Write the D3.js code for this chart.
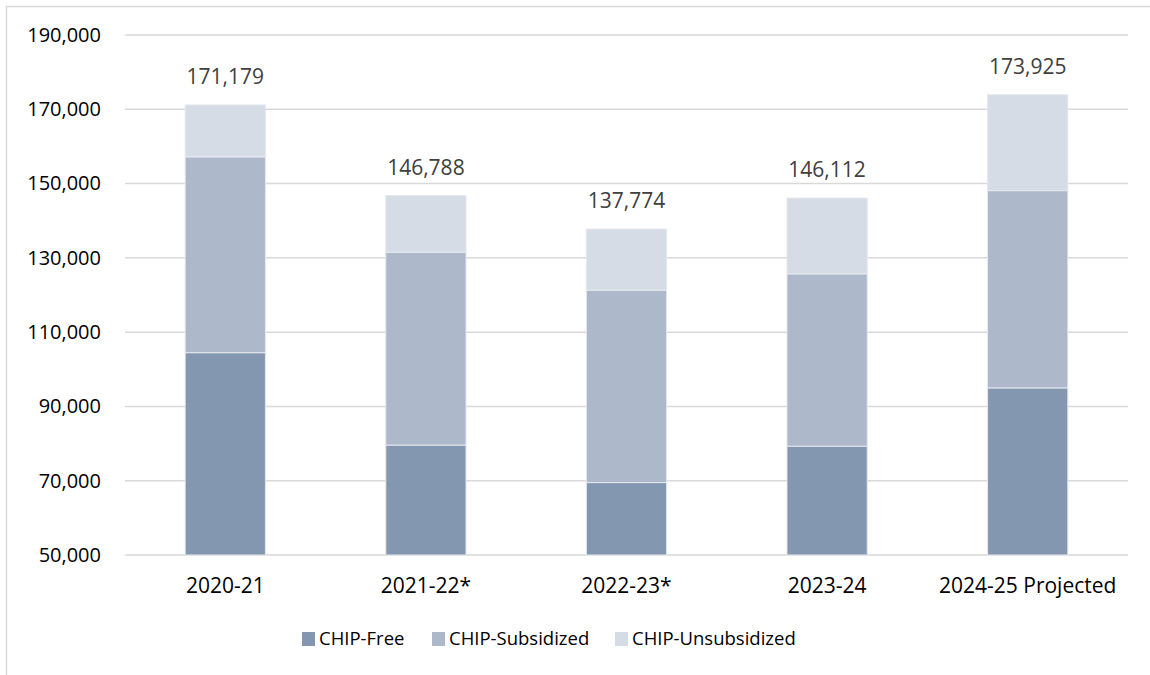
<!DOCTYPE html>
<html>
<head>
<meta charset="utf-8">
<script src="https://cdn.jsdelivr.net/npm/d3@7"></script>
<style>
    body { margin: 0; background: #fff; }
    text { font-family: "Open Sans", sans-serif; }
</style>
</head>
<body>
<div id="chart"></div>
<script>
// enrollment by year
const years = ["2020-21", "2021-22*", "2022-23*", "2023-24", "2024-25 Projected"];
const totals = [171179, 146788, 137774, 146112, 173925];
const chipFree = [104470, 79600, 69500, 79300, 95000];
const chipSubsidized = [52730, 51900, 51800, 46400, 53100];
const seriesNames = ["CHIP-Free", "CHIP-Subsidized", "CHIP-Unsubsidized"];
const colors = ["#8497B0", "#ADB9CA", "#D6DCE5"];
const yTicks = [50000, 70000, 90000, 110000, 130000, 150000, 170000, 190000];

// unsubsidized is whatever is left of the total
const chipUnsubsidized = totals.map((t, i) => t - chipFree[i] - chipSubsidized[i]);

const width = 1150, height = 675;
const margin = {top: 35, right: 22, bottom: 120, left: 125};

const svg = d3.select("#chart")
    .append("svg")
    .attr("width", width)
    .attr("height", height);

// outer frame
svg.append("rect")
    .attr("x", 6.5)
    .attr("y", 6.5)
    .attr("width", width + 10)
    .attr("height", height + 10)
    .attr("fill", "none")
    .attr("stroke", "#D9D9D9")
    .attr("stroke-width", 1.5);

const x = d3.scaleBand()
    .domain(years)
    .range([margin.left, width - margin.right])
    .paddingInner(0.6)
    .paddingOuter(0.3);

const y = d3.scaleLinear()
    .domain([50000, 190000])
    .range([height - margin.bottom, margin.top]);

// gridlines
svg.append("g")
    .selectAll("line")
    .data(yTicks)
    .join("line")
    .attr("x1", margin.left)
    .attr("x2", width - margin.right)
    .attr("y1", d => y(d))
    .attr("y2", d => y(d))
    .attr("stroke", "#D9D9D9")
    .attr("stroke-width", 1.5);

// y axis labels
const yAxis = d3.axisLeft(y)
    .tickValues(yTicks)
    .tickFormat(d3.format(","))
    .tickSize(0)
    .tickPadding(24);

svg.append("g")
    .attr("transform", `translate(${margin.left},0)`)
    .call(yAxis)
    .call(g => g.select(".domain").remove())
    .call(g => g.selectAll("text")
        .attr("font-size", 20)
        .attr("fill", "#000")
        .style("font-family", "Open Sans, sans-serif"));

// x axis labels
const xAxis = d3.axisBottom(x).tickSize(0).tickPadding(23);

svg.append("g")
    .attr("transform", `translate(0,${height - margin.bottom})`)
    .call(xAxis)
    .call(g => g.select(".domain").remove())
    .call(g => g.selectAll("text")
        .attr("font-size", 21)
        .attr("fill", "#000")
        .style("font-family", "Open Sans, sans-serif"));

// stacked bars
const rows = years.map((yr, i) => ({
    year: yr,
    "CHIP-Free": chipFree[i],
    "CHIP-Subsidized": chipSubsidized[i],
    "CHIP-Unsubsidized": chipUnsubsidized[i]
}));

const stacked = d3.stack().keys(seriesNames)(rows);

svg.append("g")
    .selectAll("g")
    .data(stacked)
    .join("g")
    .attr("fill", (d, i) => colors[i])
    .selectAll("rect")
    .data(d => d)
    .join("rect")
    .attr("x", d => x(d.data.year))
    .attr("width", x.bandwidth())
    .attr("y", d => y(d[1]))
    .attr("height", d => y(d[0] === 0 ? 50000 : d[0]) - y(d[1]))
    .attr("stroke", "#E4E8EF")
    .attr("stroke-width", 1);

// total labels
svg.append("g")
    .selectAll("text")
    .data(totals)
    .join("text")
    .attr("x", (d, i) => x(years[i]) + x.bandwidth() / 2)
    .attr("y", d => y(d) - 21)
    .attr("text-anchor", "middle")
    .attr("font-size", 21)
    .attr("fill", "#404040")
    .text(d => d3.format(",")(d));

// legend
const legendX = [302, 432, 615];
const legend = svg.append("g")
    .selectAll("g")
    .data(seriesNames)
    .join("g")
    .attr("transform", (d, i) => `translate(${legendX[i]},632)`);

legend.append("rect")
    .attr("width", 13)
    .attr("height", 14)
    .attr("fill", (d, i) => colors[i]);

legend.append("text")
    .attr("x", 17)
    .attr("y", 13)
    .attr("font-size", 18.5)
    .attr("fill", "#000")
    .text(d => d);
</script>
</body>
</html>
